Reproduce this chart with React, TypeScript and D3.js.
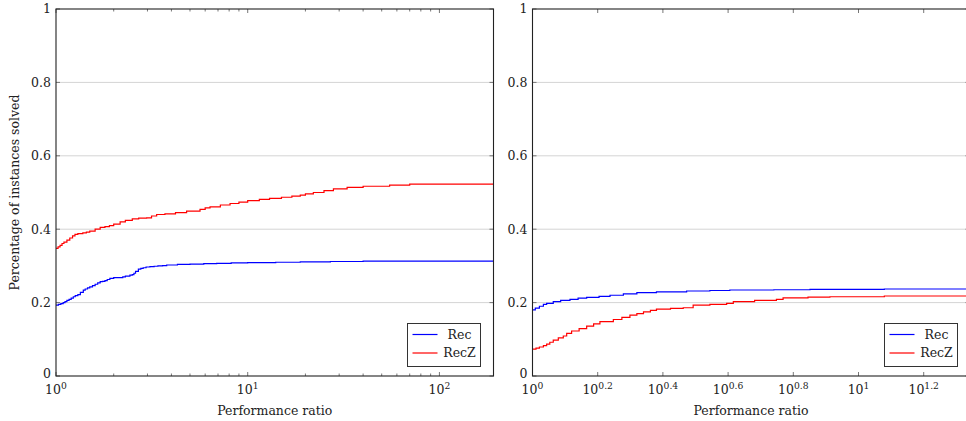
import React from "react";
import * as d3 from "d3";

const leftRecRatio = [1, 1.03, 1.06, 1.09, 1.114, 1.14, 1.17, 1.2, 1.231, 1.26, 1.3, 1.34, 1.388, 1.42, 1.46, 1.5, 1.55, 1.6, 1.65, 1.7, 1.75, 1.8, 1.85, 1.91, 2.0, 2.16, 2.23, 2.3, 2.43, 2.5, 2.55, 2.6, 2.69, 2.77, 2.85, 2.95, 3.09, 3.25, 3.4, 3.6, 3.78, 4.3, 5.0, 5.9, 6.89, 8.2, 10, 14, 18.8, 27, 40, 191.5];
const leftRecVal = [0.193, 0.195, 0.197, 0.2, 0.2025, 0.206, 0.209, 0.212, 0.216, 0.219, 0.222, 0.228, 0.234, 0.237, 0.24, 0.243, 0.246, 0.25, 0.254, 0.257, 0.258, 0.26, 0.263, 0.266, 0.268, 0.268, 0.27, 0.272, 0.275, 0.276, 0.28, 0.285, 0.291, 0.293, 0.295, 0.297, 0.298, 0.299, 0.3, 0.301, 0.3025, 0.304, 0.305, 0.306, 0.307, 0.308, 0.309, 0.31, 0.311, 0.312, 0.313, 0.313];

const leftRecZRatio = [1, 1.025, 1.05, 1.075, 1.1, 1.14, 1.18, 1.22, 1.256, 1.3, 1.38, 1.44, 1.5, 1.6, 1.7, 1.8, 1.9, 2.0, 2.16, 2.3, 2.5, 2.7, 2.97, 3.15, 3.35, 3.7, 4.2, 4.8, 5.64, 6.0, 6.36, 7.2, 8.09, 9.0, 10, 11.5, 13, 15, 17, 18.8, 20, 22, 25, 28, 33, 40, 55, 70, 191.5];
const leftRecZVal = [0.348, 0.352, 0.356, 0.361, 0.365, 0.37, 0.376, 0.382, 0.386, 0.388, 0.39, 0.392, 0.395, 0.4, 0.405, 0.407, 0.41, 0.414, 0.42, 0.424, 0.428, 0.43, 0.431, 0.436, 0.44, 0.442, 0.445, 0.449, 0.454, 0.458, 0.461, 0.466, 0.47, 0.474, 0.478, 0.481, 0.484, 0.487, 0.49, 0.493, 0.496, 0.5, 0.505, 0.51, 0.514, 0.517, 0.52, 0.523, 0.523];

const rightRecRatio = [1, 1.02, 1.05, 1.08, 1.105, 1.158, 1.22, 1.303, 1.38, 1.466, 1.6, 1.729, 1.9, 2.09, 2.4, 2.97, 3.5, 4.03, 5.5, 7.1, 12, 21.9];
const rightRecVal = [0.18, 0.185, 0.19, 0.195, 0.198, 0.2025, 0.206, 0.209, 0.212, 0.2144, 0.217, 0.22, 0.224, 0.227, 0.229, 0.2316, 0.233, 0.2343, 0.235, 0.236, 0.237, 0.238];

const rightRecZRatio = [1, 1.025, 1.05, 1.08, 1.105, 1.13, 1.158, 1.2, 1.243, 1.273, 1.318, 1.39, 1.466, 1.54, 1.61, 1.77, 1.88, 1.99, 2.09, 2.19, 2.3, 2.4, 2.65, 2.9, 3.11, 3.5, 3.94, 4.13, 4.8, 5.6, 5.87, 7.0, 8.17, 12, 21.9];
const rightRecZVal = [0.073, 0.076, 0.079, 0.083, 0.087, 0.092, 0.098, 0.104, 0.109, 0.116, 0.1226, 0.129, 0.136, 0.142, 0.148, 0.154, 0.16, 0.166, 0.17, 0.175, 0.179, 0.182, 0.184, 0.186, 0.193, 0.195, 0.198, 0.2025, 0.206, 0.209, 0.213, 0.215, 0.216, 0.218, 0.221];

const yTicks = [0, 0.2, 0.4, 0.6, 0.8, 1];
const yTickLabels = ["0", "0.2", "0.4", "0.6", "0.8", "1"];
const leftXMajor = [1, 10, 100];
const leftXMajorExp = ["0", "1", "2"];
const rightXMajorExp = ["0", "0.2", "0.4", "0.6", "0.8", "1", "1.2"];
const seriesNames = ["Rec", "RecZ"];
const seriesColors = ["#0000ff", "#ff0000"];
const xLabel = "Performance ratio";
const yLabel = "Percentage of instances solved";

const FONT = "'DejaVu Serif', serif";
const FS = 12.5;
const TOP = 9;
const BOTTOM = 376;

type Panel = {
  x0: number;
  x1: number;
  domainMax: number;
  series: { r: number[]; v: number[] }[];
  majors: number[];
  majorExp: string[];
  minors: number[];
  legendX: number;
};

const textStyle: React.CSSProperties = { fontFamily: FONT, fontSize: FS };

function PanelView({ p, showYLabel }: { p: Panel; showYLabel: boolean }) {
  const x = d3.scaleLog().domain([1, p.domainMax]).range([p.x0, p.x1]);
  const y = d3.scaleLinear().domain([0, 1]).range([BOTTOM, TOP]);
  const line = d3
    .line<[number, number]>()
    .x((d) => x(d[0]))
    .y((d) => y(d[1]))
    .curve(d3.curveStepAfter);
  const clipId = `clip-${Math.round(p.x0)}`;
  const lx = p.legendX;
  const ly = 323.5;
  return (
    <g>
      <defs>
        <clipPath id={clipId}>
          <rect x={p.x0} y={TOP} width={p.x1 - p.x0} height={BOTTOM - TOP} />
        </clipPath>
      </defs>
      {yTicks.slice(1, -1).map((t) => (
        <line key={"g" + t} x1={p.x0} x2={p.x1} y1={y(t)} y2={y(t)} stroke="#d4d4d4" strokeWidth={1} />
      ))}
      {yTicks.map((t) => (
        <g key={"yt" + t}>
          <line x1={p.x0} x2={p.x0 + 4} y1={y(t)} y2={y(t)} stroke="#777" />
          <line x1={p.x1 - 4} x2={p.x1} y1={y(t)} y2={y(t)} stroke="#777" />
        </g>
      ))}
      {p.majors.map((t, i) => (
        <g key={"xm" + i}>
          <line x1={x(t)} x2={x(t)} y1={BOTTOM} y2={BOTTOM - 4} stroke="#777" />
          <line x1={x(t)} x2={x(t)} y1={TOP} y2={TOP + 4} stroke="#777" />
        </g>
      ))}
      {p.minors.map((t, i) => (
        <g key={"xn" + i}>
          <line x1={x(t)} x2={x(t)} y1={BOTTOM} y2={BOTTOM - 2.5} stroke="#777" />
          <line x1={x(t)} x2={x(t)} y1={TOP} y2={TOP + 2.5} stroke="#777" />
        </g>
      ))}
      <g clipPath={`url(#${clipId})`}>
        {p.series.map((s, i) => (
          <path
            key={"s" + i}
            d={line(s.r.map((r, j) => [r, s.v[j]] as [number, number])) || ""}
            fill="none"
            stroke={seriesColors[i]}
            strokeWidth={1.2}
          />
        ))}
      </g>
      <rect x={p.x0} y={TOP} width={p.x1 - p.x0} height={BOTTOM - TOP} fill="none" stroke="#222" strokeWidth={1.1} />
      {yTicks.map((t, i) => (
        <text key={"yl" + t} x={p.x0 - 5} y={y(t) - (t === 0 ? 2 : 0)} dy="0.35em" textAnchor="end" style={textStyle} fill="#222">
          {yTickLabels[i]}
        </text>
      ))}
      {p.majors.map((t, i) => (
        <text key={"xl" + i} x={x(t)} y={394} textAnchor="middle" style={textStyle} fill="#222">
          10
          <tspan dy={-5.5} style={{ fontSize: 9.2 }}>{p.majorExp[i]}</tspan>
        </text>
      ))}
      <text x={(p.x0 + p.x1) / 2} y={414.5} textAnchor="middle" style={textStyle} fill="#222">
        {xLabel}
      </text>
      {showYLabel && (
        <text transform={`translate(18.5, ${(TOP + BOTTOM) / 2}) rotate(-90)`} textAnchor="middle" style={textStyle} fill="#222">
          {yLabel}
        </text>
      )}
      <rect x={lx} y={ly} width={73} height={43} fill="#fff" stroke="#333" strokeWidth={1} />
      {seriesNames.map((n, i) => (
        <g key={"lg" + i}>
          <line x1={lx + 5} x2={lx + 30} y1={ly + 11 + i * 18.5} y2={ly + 11 + i * 18.5} stroke={seriesColors[i]} strokeWidth={1.2} />
          <text x={lx + 52} y={ly + 11 + i * 18.5} dy="0.35em" textAnchor="middle" style={textStyle} fill="#222">
            {n}
          </text>
        </g>
      ))}
    </g>
  );
}

export default function App() {
  const leftMinors: number[] = [];
  [1, 10, 100].forEach((d) => {
    for (let k = 2; k <= 9; k++) if (d * k <= 191.5) leftMinors.push(d * k);
  });
  const left: Panel = {
    x0: 56,
    x1: 493.5,
    domainMax: 191.5,
    series: [
      { r: leftRecRatio, v: leftRecVal },
      { r: leftRecZRatio, v: leftRecZVal },
    ],
    majors: leftXMajor,
    majorExp: leftXMajorExp,
    minors: leftMinors,
    legendX: 407.5,
  };
  const right: Panel = {
    x0: 532.5,
    x1: 969.5,
    domainMax: 21.9,
    series: [
      { r: rightRecRatio, v: rightRecVal },
      { r: rightRecZRatio, v: rightRecZVal },
    ],
    majors: rightXMajorExp.map((e) => Math.pow(10, parseFloat(e))),
    majorExp: rightXMajorExp,
    minors: [],
    legendX: 884.5,
  };
  return (
    <svg width={966} height={421} style={{ position: "absolute", left: 0, top: 0, background: "#fff" }}>
      <rect x={0} y={0} width={966} height={421} fill="#fff" />
      <PanelView p={left} showYLabel={true} />
      <PanelView p={right} showYLabel={false} />
    </svg>
  );
}
